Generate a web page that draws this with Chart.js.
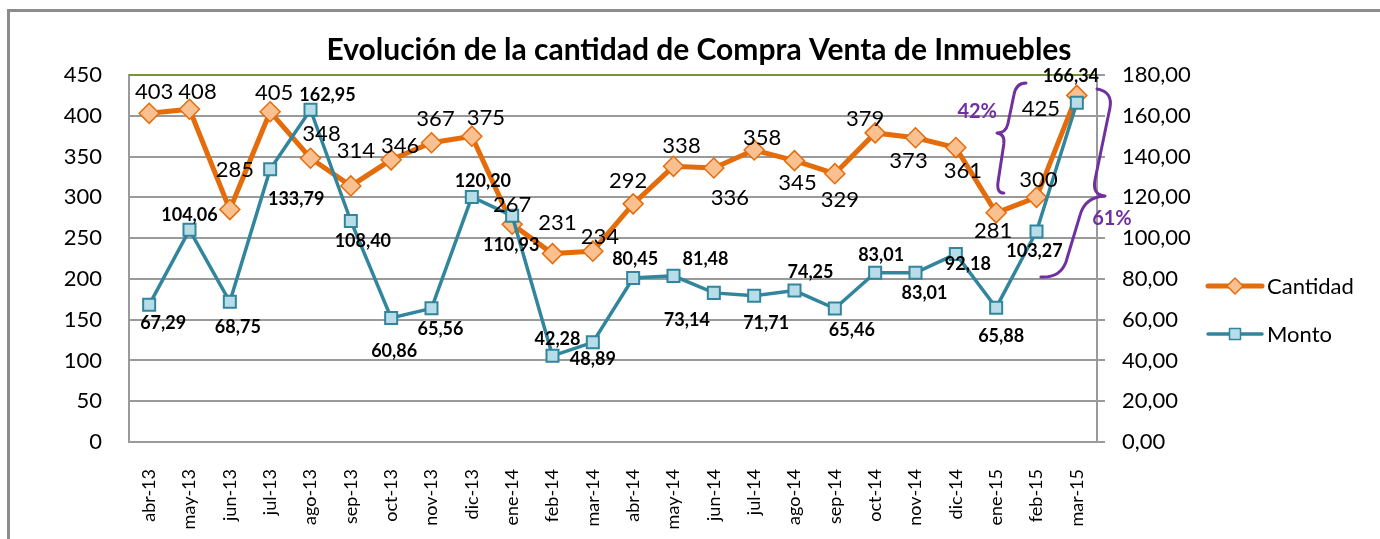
<!DOCTYPE html>
<html>
<head>
<meta charset="utf-8">
<script src="https://cdn.jsdelivr.net/npm/chart.js@4.4.1/dist/chart.umd.min.js"></script>
<style>
  html, body { margin: 0; padding: 0; background: #ffffff; }
  #wrap { position: relative; width: 1380px; height: 539px; }
</style>
</head>
<body>
<div id="wrap"><canvas id="c" width="1380" height="539"></canvas></div>
<script>
// ---------- DATA ----------
const titleText = 'Evolución de la cantidad de Compra Venta de Inmuebles';
const categories = ['abr-13','may-13','jun-13','jul-13','ago-13','sep-13','oct-13','nov-13','dic-13','ene-14','feb-14','mar-14','abr-14','may-14','jun-14','jul-14','ago-14','sep-14','oct-14','nov-14','dic-14','ene-15','feb-15','mar-15'];
const cantidad = [403,408,285,405,348,314,346,367,375,267,231,234,292,338,336,358,345,329,379,373,361,281,300,425];
const monto = [67.29,104.06,68.75,133.79,162.95,108.40,60.86,65.56,120.20,110.93,42.28,48.89,80.45,81.48,73.14,71.71,74.25,65.46,83.01,83.01,92.18,65.88,103.27,166.34];
const leftAxis = { min: 0, max: 450, step: 50 };
const rightAxis = { min: 0, max: 180, step: 20 };
const seriesNames = ['Cantidad', 'Monto'];
const annotationTexts = ['42%', '61%'];

// ---------- STYLE / PLACEMENT (not data) ----------
const cantidadLabelOffsets = [[5,-22],[8,-18],[5,-41],[4,-20],[11,-25],[5,-36],[9,-15],[4,-25],[14,-19],[0,-20],[5,-32],[7,-15],[-5,-24],[8,-21],[16,29],[8,-13],[3,21],[5,25],[-10,-15],[-7,22],[7,22],[-3,17],[2,-18],[-36,13]];
const montoLabelOffsets = [[14,17],[0,-16],[8,24],[26,29],[17,-16],[12,19],[3,32],[9,20],[11,-17],[-1,28],[5,-18],[0,16],[2,-20],[32,-18],[-27,26],[12,26],[16,-19],[17,21],[6,-19],[9,19],[12,9],[5,28],[-2,19],[-6,-28]];

const ORANGE = '#E46C0A', ORANGE_FILL = '#FAC090';
const TEAL = '#31859C', TEAL_FILL = '#B7DEE8';
const PURPLE = '#7030A0';
const GRID = '#9a9a9a';
const FONT = 'Lato, "Open Sans", "DejaVu Sans", sans-serif';

// brace paths in (category index, right-axis value) space
const braceLeft = [
  ['M', [21.74,176.1]],
  ['Q', [21.49,176.1], [21.44,170.2]],
  ['L', [21.29,156.0]],
  ['Q', [21.24,151.6], [21.02,151.6]],
  ['Q', [21.22,151.1], [21.19,146.2]],
  ['L', [21.05,128.0]],
  ['Q', [21.00,122.1], [21.19,122.1]]
];
const braceRight = [
  ['M', [23.50,173.1]],
  ['Q', [23.90,171.7], [23.82,163.8]],
  ['L', [23.45,128.5]],
  ['Q', [23.38,121.1], [23.70,120.7]],
  ['Q', [23.20,120.2], [23.08,111.3]],
  ['L', [22.73,88.3]],
  ['Q', [22.58,80.4], [22.11,80.9]]
];
const annotationPos = [[20.53,161.9],[23.87,109.4]];

function fmtComma(v) { return v.toFixed(2).replace('.', ','); }

const framePlugin = {
  id: 'frame',
  beforeDraw(chart) {
    const ctx = chart.ctx;
    ctx.save();
    ctx.strokeStyle = '#8c8c8c';
    ctx.lineWidth = 3;
    ctx.beginPath();
    ctx.moveTo(8.5, chart.height + 5);
    ctx.lineTo(8.5, 10.5);
    ctx.lineTo(chart.width + 5, 10.5);
    ctx.stroke();
    // title
    ctx.fillStyle = '#000';
    ctx.font = 'bold 30px ' + FONT;
    ctx.textAlign = 'center';
    ctx.textBaseline = 'middle';
    ctx.fillText(titleText, chart.width / 2 + 9, 50);
    ctx.restore();
  },
  beforeDatasetsDraw(chart) {
    const ctx = chart.ctx, a = chart.chartArea;
    ctx.save();
    ctx.strokeStyle = '#77933C';
    ctx.lineWidth = 2;
    ctx.beginPath();
    ctx.moveTo(a.left, a.top);
    ctx.lineTo(a.right, a.top);
    ctx.stroke();
    ctx.restore();
  },
  afterDraw(chart) {
    const ctx = chart.ctx, a = chart.chartArea;
    const xs = chart.scales.x, y2 = chart.scales.y2;
    const P = (p) => [xs.getPixelForValue(p[0]), y2.getPixelForValue(p[1])];
    // data labels
    ctx.save();
    ctx.textAlign = 'center';
    ctx.textBaseline = 'middle';
    ctx.fillStyle = '#000';
    const m0 = chart.getDatasetMeta(0).data;
    ctx.font = '22px ' + FONT;
    m0.forEach((pt, i) => {
      const o = cantidadLabelOffsets[i];
      ctx.fillText(String(cantidad[i]), pt.x + o[0], pt.y + o[1] + 1);
    });
    const m1 = chart.getDatasetMeta(1).data;
    ctx.font = 'bold 18px ' + FONT;
    m1.forEach((pt, i) => {
      const o = montoLabelOffsets[i];
      ctx.fillText(fmtComma(monto[i]), pt.x + o[0], pt.y + o[1] + 1);
    });
    // braces
    ctx.strokeStyle = PURPLE;
    ctx.lineWidth = 3;
    ctx.lineJoin = 'round';
    ctx.lineCap = 'round';
    [braceLeft, braceRight].forEach(path => {
      ctx.beginPath();
      path.forEach(seg => {
        if (seg[0] === 'M') { const p = P(seg[1]); ctx.moveTo(p[0], p[1]); }
        else if (seg[0] === 'L') { const p = P(seg[1]); ctx.lineTo(p[0], p[1]); }
        else { const c = P(seg[1]), p = P(seg[2]); ctx.quadraticCurveTo(c[0], c[1], p[0], p[1]); }
      });
      ctx.stroke();
    });
    ctx.fillStyle = PURPLE;
    ctx.font = 'bold 20px ' + FONT;
    annotationTexts.forEach((t, i) => {
      const p = P(annotationPos[i]);
      ctx.fillText(t, p[0], p[1]);
    });
    // legend
    const lx = a.right + 111, items = [
      { name: seriesNames[0], color: ORANGE, fill: ORANGE_FILL, w: 5, shape: 'diamond' },
      { name: seriesNames[1], color: TEAL, fill: TEAL_FILL, w: 3.5, shape: 'square' }
    ];
    items.forEach((it, i) => {
      const ly = a.top + 211 + i * 48;
      ctx.strokeStyle = it.color;
      ctx.lineWidth = it.w;
      ctx.lineCap = 'round';
      ctx.beginPath();
      ctx.moveTo(lx, ly);
      ctx.lineTo(lx + 54, ly);
      ctx.stroke();
      ctx.fillStyle = it.fill;
      ctx.lineWidth = 1.5;
      ctx.beginPath();
      const cx = lx + 27;
      if (it.shape === 'diamond') {
        ctx.moveTo(cx, ly - 8); ctx.lineTo(cx + 8, ly); ctx.lineTo(cx, ly + 8); ctx.lineTo(cx - 8, ly); ctx.closePath();
      } else {
        ctx.rect(cx - 5.5, ly - 5.5, 11, 11);
      }
      ctx.fill();
      ctx.stroke();
      ctx.fillStyle = '#000';
      ctx.font = '22px ' + FONT;
      ctx.textAlign = 'left';
      ctx.fillText(it.name, lx + 59, ly + 1);
    });
    ctx.restore();
  }
};

new Chart(document.getElementById('c'), {
  type: 'line',
  data: {
    labels: categories,
    datasets: [
      {
        label: seriesNames[0], data: cantidad, yAxisID: 'y', order: 1,
        borderColor: ORANGE, borderWidth: 5, tension: 0,
        pointStyle: 'rectRot', pointRadius: 10, pointBackgroundColor: ORANGE_FILL,
        pointBorderColor: ORANGE, pointBorderWidth: 1.5
      },
      {
        label: seriesNames[1], data: monto, yAxisID: 'y2', order: 0,
        borderColor: TEAL, borderWidth: 3.5, tension: 0,
        pointStyle: 'rect', pointRadius: 8.5, pointBackgroundColor: TEAL_FILL,
        pointBorderColor: TEAL, pointBorderWidth: 2
      }
    ]
  },
  options: {
    responsive: false,
    animation: false,
    devicePixelRatio: 1,
    layout: { padding: { top: 75, left: 0, right: 183, bottom: 0 } },
    plugins: { legend: { display: false }, title: { display: false }, tooltip: { enabled: false } },
    scales: {
      x: {
        offset: true,
        grid: { display: false, drawTicks: false },
        border: { display: true, color: GRID, width: 2 },
        ticks: { autoSkip: false, maxRotation: 90, minRotation: 90, padding: 27, color: '#000', font: { family: FONT, size: 18 } },
        afterFit: (s) => { s.height = 97; }
      },
      y: {
        position: 'left', min: leftAxis.min, max: leftAxis.max,
        grid: { color: GRID, lineWidth: 2, drawTicks: false },
        border: { display: true, color: GRID, width: 2 },
        ticks: { stepSize: leftAxis.step, padding: 27, color: '#000', font: { family: FONT, size: 22 } },
        afterFit: (s) => { s.width = 129; }
      },
      y2: {
        position: 'right', min: rightAxis.min, max: rightAxis.max,
        grid: { drawOnChartArea: false, color: GRID, lineWidth: 2, drawTicks: true, tickLength: 8 },
        border: { display: true, color: GRID, width: 2 },
        ticks: { stepSize: rightAxis.step, padding: 17, color: '#000', font: { family: FONT, size: 22 },
                 callback: (v) => fmtComma(v) },
        afterFit: (s) => { s.width = 100; }
      }
    }
  },
  plugins: [framePlugin]
});
</script>
</body>
</html>
